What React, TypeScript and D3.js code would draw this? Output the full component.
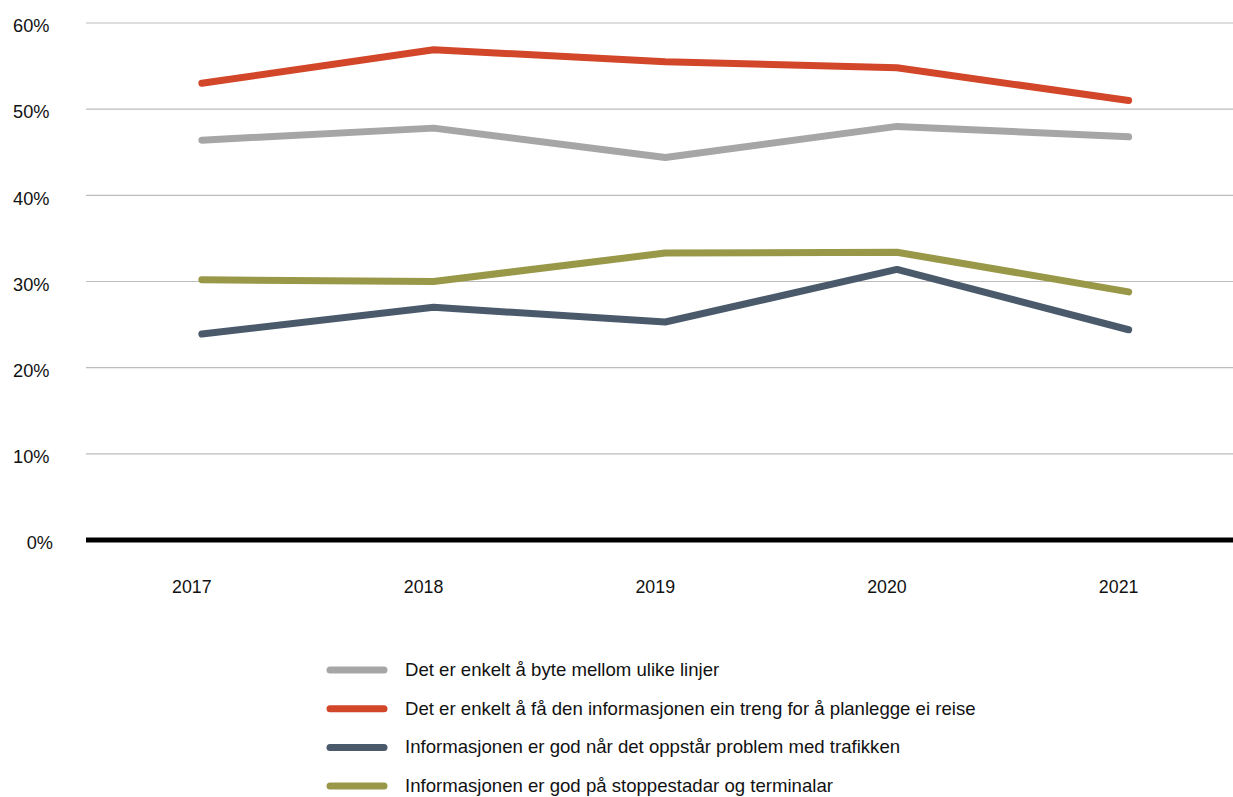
import React from "react";
import * as d3 from "d3";

const years = ["2017", "2018", "2019", "2020", "2021"];
const seriesNames = [
  "Det er enkelt å byte mellom ulike linjer",
  "Det er enkelt å få den informasjonen ein treng for å planlegge ei reise",
  "Informasjonen er god når det oppstår problem med trafikken",
  "Informasjonen er god på stoppestadar og terminalar",
];
const byteValues = [46.4, 47.8, 44.4, 48.0, 46.8];
const planleggeValues = [53.0, 56.9, 55.5, 54.8, 51.0];
const problemValues = [23.9, 27.0, 25.3, 31.4, 24.4];
const stoppValues = [30.2, 30.0, 33.3, 33.4, 28.8];
const seriesColors = ["#a6a6a6", "#d2462a", "#4a5a6b", "#999848"];
const yTicks = [0, 10, 20, 30, 40, 50, 60];

const W = 1233;
const H = 797;

export default function App() {
  const allSeries = [byteValues, planleggeValues, problemValues, stoppValues];
  const x = d3.scaleBand<string>().domain(years).range([86, 1244.5]);
  const y = d3.scaleLinear().domain([0, 60]).range([540, 23]);
  const line = d3
    .line<number>()
    .x((_, i) => (x(years[i]) as number) + x.bandwidth() / 2)
    .y((d) => y(d));
  const font = "Liberation Sans, Arial, sans-serif";

  return (
    <div style={{ position: "absolute", left: 0, top: 0 }}>
      <svg width={W} height={H} style={{ display: "block", fontFamily: font }}>
        <rect width={W} height={H} fill="#fff" />
        {yTicks.filter((t) => t !== 0).map((t) => (
          <line key={t} x1={86} x2={W} y1={y(t)} y2={y(t)} stroke="#bcbcbc" strokeWidth={1.2} />
        ))}
        {yTicks.map((t) => (
          <text
            key={"l" + t}
            x={t === 0 ? 53 : 49.5}
            y={y(t) + 4.5}
            textAnchor="end"
            dominantBaseline="middle"
            fontSize={18.2}
            fill="#111"
          >
            {t}%
          </text>
        ))}
        <line x1={86} x2={W} y1={y(0)} y2={y(0)} stroke="#000" strokeWidth={5} />
        {years.map((yr) => (
          <text
            key={yr}
            x={(x(yr) as number) + x.bandwidth() / 2 - 10}
            y={588}
            textAnchor="middle"
            dominantBaseline="middle"
            fontSize={17.8}
            fill="#111"
          >
            {yr}
          </text>
        ))}
        {allSeries.map((vals, i) => (
          <path
            key={i}
            d={line(vals) || ""}
            fill="none"
            stroke={seriesColors[i]}
            strokeWidth={7}
            strokeLinecap="round"
            strokeLinejoin="round"
          />
        ))}
        {seriesNames.map((name, i) => {
          const ly = 670 + i * 38.7;
          return (
            <g key={name}>
              <line x1={330} x2={384} y1={ly} y2={ly} stroke={seriesColors[i]} strokeWidth={7} strokeLinecap="round" />
              <text x={405} y={ly + 1} dominantBaseline="middle" fontSize={18.6} fill="#111">
                {name}
              </text>
            </g>
          );
        })}
      </svg>
    </div>
  );
}
